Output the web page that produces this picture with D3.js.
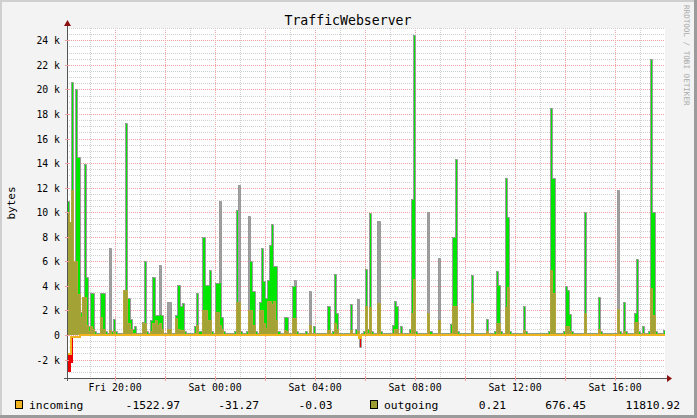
<!DOCTYPE html>
<html><head><meta charset="utf-8">
<script src="https://cdn.jsdelivr.net/npm/d3@7"></script>
<style>body{margin:0;background:#f3f3f3}svg{display:block}</style>
</head><body>
<script>
// ---- data (values in k bytes, 5-minute steps, 12 per row = 1 hour) ----
// grey series (peak)
const peakValues = [
 10.9, 9.2, 20.6, 6.0, 20.0, 14.5, 1.9, 2.8, 13.9, 4.7, 0.7, 3.4,
 3.4, 0.3, 0.2, 0.2, 3.4, 3.4, 0.3, 0.2, 7.1, 0.3, 1.3, 0.3,
 0.2, 0.2, 0.2, 3.7, 17.3, 3.0, 1.3, 0.5, 0.7, 0.2, 0.2, 0.2,
 1.1, 6.0, 0.3, 0.2, 1.2, 4.7, 1.6, 1.6, 5.7, 1.6, 0.2, 0.2,
 2.7, 2.7, 0.2, 0.2, 1.6, 4.1, 2.4, 2.6, 0.3, 0.2, 0.2, 0.2,
 0.2, 0.7, 3.4, 0.3, 0.3, 8.0, 4.1, 4.1, 5.3, 0.3, 0.2, 4.2,
 4.2, 10.9, 1.5, 0.3, 0.2, 0.2, 0.2, 0.2, 0.3, 10.2, 12.2, 0.3,
 0.2, 0.2, 0.3, 9.7, 6.0, 3.6, 0.3, 0.2, 2.7, 7.1, 4.4, 3.0,
 4.5, 7.3, 9.0, 5.6, 5.6, 0.3, 0.2, 0.2, 1.5, 1.5, 0.2, 0.2,
 4.0, 4.5, 0.3, 0.2, 0.2, 0.2, 0.3, 0.2, 3.6, 0.2, 0.7, 0.2,
 0.15, 0.15, 0.15, 0.15, 0.15, 2.4, 0.2, 0.3, 5.0, 1.8, 0.2, 0.15,
 0.15, 0.15, 0.15, 0.15, 2.5, 0.2, 0.5, 2.9, -1.0, 0.2, 0.3, 5.4,
 0.5, 9.9, 0.3, 0.2, 0.2, 9.3, 0.3, 0.15, 0.15, 0.15, 0.15, 0.15,
 0.8, 2.8, 2.4, 0.2, 0.7, 0.15, 0.15, 0.15, 0.5, 11.1, 24.4, 0.3,
 0.2, 0.2, 0.2, 0.2, 0.2, 10.0, 0.3, 0.2, 0.2, 0.2, 6.3, 0.2,
 0.15, 0.15, 0.15, 0.15, 0.9, 8.0, 14.3, 0.3, 0.15, 0.15, 0.15, 0.15,
 0.15, 0.15, 4.9, 0.2, 0.15, 0.15, 0.15, 0.15, 0.15, 1.3, 0.15, 0.15,
 0.2, 0.3, 5.2, 4.1, 0.3, 0.2, 12.8, 9.6, 0.3, 0.2, 0.2, 0.2,
 0.15, 0.15, 0.15, 2.4, 0.3, 0.15, 0.15, 0.15, 0.15, 0.15, 0.15, 0.15,
 0.15, 0.15, 0.15, 0.3, 18.5, 12.8, 0.2, 0.15, 0.15, 0.15, 0.3, 4.0,
 3.7, 1.7, 0.3, 0.15, 0.15, 0.15, 0.15, 0.15, 10.0, 0.2, 0.15, 0.15,
 0.15, 0.15, 0.15, 3.1, 0.3, 0.15, 0.15, 0.15, 0.15, 0.15, 0.15, 0.15,
 11.8, 0.3, 0.2, 2.7, 0.3, 0.15, 0.15, 0.15, 1.8, 6.2, 0.3, 0.2,
 0.7, 0.2, 0.2, 0.3, 22.5, 10.0, 0.3, 0.2, 0.2, 0.2, 0.4, 0.2
];
// green / red area series
const areaValues = [
 10.9, 9.2, 20.6, 6.0, 20.0, 14.5, 1.9, 2.8, 13.9, 4.7, 0.7, 3.4,
 3.4, 0.3, 0.2, 0.2, 3.4, 3.4, 0.3, 0.2, 0.3, 0.3, 1.3, 0.3,
 0.2, 0.2, 0.2, 3.7, 17.3, 3.0, 1.3, 0.5, 0.7, 0.2, 0.2, 0.2,
 1.1, 6.0, 0.3, 0.2, 1.2, 4.7, 1.6, 1.6, 1.6, 1.6, 0.2, 0.2,
 0.3, 0.3, 0.2, 0.2, 1.6, 4.1, 2.4, 2.6, 0.3, 0.2, 0.2, 0.2,
 0.2, 0.7, 3.4, 0.3, 0.3, 8.0, 4.1, 4.1, 5.3, 0.3, 0.2, 4.2,
 4.2, 4.2, 1.5, 0.3, 0.2, 0.2, 0.2, 0.2, 0.3, 10.2, 0.3, 0.3,
 0.2, 0.2, 0.3, 0.3, 6.0, 3.6, 0.3, 0.2, 2.7, 7.1, 4.4, 3.0,
 4.5, 7.3, 9.0, 5.6, 5.6, 0.3, 0.2, 0.2, 1.5, 1.5, 0.2, 0.2,
 4.0, 4.0, 0.3, 0.2, 0.2, 0.2, 0.3, 0.2, 0.2, 0.2, 0.7, 0.2,
 0.15, 0.15, 0.15, 0.15, 0.15, 2.4, 0.2, 0.3, 5.0, 1.8, 0.2, 0.15,
 0.15, 0.15, 0.15, 0.15, 2.5, 0.2, 0.5, 0.2, -1.0, 0.2, 0.3, 5.4,
 0.5, 9.9, 0.3, 0.2, 0.2, 0.3, 0.3, 0.15, 0.15, 0.15, 0.15, 0.15,
 0.8, 2.8, 2.4, 0.2, 0.7, 0.15, 0.15, 0.15, 0.5, 11.1, 24.4, 0.3,
 0.2, 0.2, 0.2, 0.2, 0.2, 0.3, 0.3, 0.2, 0.2, 0.2, 0.2, 0.2,
 0.15, 0.15, 0.15, 0.15, 0.9, 8.0, 14.3, 0.3, 0.15, 0.15, 0.15, 0.15,
 0.15, 0.15, 4.9, 0.2, 0.15, 0.15, 0.15, 0.15, 0.15, 1.3, 0.15, 0.15,
 0.2, 0.3, 5.2, 4.1, 0.3, 0.2, 12.8, 9.6, 0.3, 0.2, 0.2, 0.2,
 0.15, 0.15, 0.15, 2.4, 0.3, 0.15, 0.15, 0.15, 0.15, 0.15, 0.15, 0.15,
 0.15, 0.15, 0.15, 0.3, 18.5, 12.8, 0.2, 0.15, 0.15, 0.15, 0.3, 4.0,
 3.7, 1.7, 0.3, 0.15, 0.15, 0.15, 0.15, 0.15, 10.0, 0.2, 0.15, 0.15,
 0.15, 0.15, 0.15, 3.1, 0.3, 0.15, 0.15, 0.15, 0.15, 0.15, 0.15, 0.15,
 0.3, 0.3, 0.2, 2.7, 0.3, 0.15, 0.15, 0.15, 1.8, 6.2, 0.3, 0.2,
 0.7, 0.2, 0.2, 0.3, 22.5, 10.0, 0.3, 0.2, 0.2, 0.2, 0.4, 0.2
];
const outgoingValues = [
 10.0, 9.2, 11.8, 6.0, 6.0, 3.3, 1.5, 3.1, 3.1, 0.8, 0.3, 0.7,
 0.5, 0.1, 0.1, 0.1, 1.5, 0.5, 0.1, 0.1, 0.4, 0.1, 0.3, 0.1,
 0.1, 0.1, 0.1, 3.7, 3.7, 1.0, 0.5, 0.2, 0.2, 0.1, 0.1, 0.1,
 1.0, 1.0, 0.1, 0.1, 0.3, 1.0, 1.2, 0.8, 1.0, 0.5, 0.1, 0.1,
 0.5, 0.5, 0.1, 0.1, 1.4, 0.5, 0.4, 0.4, 0.1, 0.1, 0.1, 0.1,
 0.1, 0.2, 0.8, 0.1, 0.1, 2.0, 2.0, 1.2, 1.2, 0.1, 0.1, 1.9,
 1.9, 0.8, 0.5, 0.1, 0.1, 0.1, 0.1, 0.1, 0.1, 2.7, 2.7, 0.1,
 0.1, 0.1, 0.1, 2.0, 2.0, 0.8, 0.1, 0.1, 2.0, 2.0, 1.0, 0.6,
 2.8, 2.8, 2.5, 2.8, 1.2, 0.1, 0.1, 0.1, 0.4, 0.3, 0.1, 0.1,
 1.4, 1.4, 0.1, 0.1, 0.1, 0.1, 0.1, 0.1, 0.8, 0.1, 0.2, 0.1,
 0.1, 0.1, 0.1, 0.1, 0.1, 0.4, 0.1, 0.1, 1.0, 0.5, 0.1, 0.1,
 0.1, 0.1, 0.1, 0.1, 0.4, 0.1, 0.1, 0.3, 0.1, 0.1, 0.1, 2.4,
 0.2, 2.3, 0.1, 0.1, 0.1, 2.6, 0.1, 0.1, 0.1, 0.1, 0.1, 0.1,
 0.2, 0.5, 0.5, 0.1, 0.2, 0.1, 0.1, 0.1, 0.2, 1.8, 4.6, 0.1,
 0.1, 0.1, 0.1, 0.1, 0.1, 1.8, 0.1, 0.1, 0.1, 0.1, 1.2, 0.1,
 0.1, 0.1, 0.1, 0.1, 0.2, 2.4, 2.4, 0.1, 0.1, 0.1, 0.1, 0.1,
 0.1, 0.1, 2.6, 0.1, 0.1, 0.1, 0.1, 0.1, 0.1, 0.3, 0.1, 0.1,
 0.1, 0.1, 1.0, 1.0, 0.1, 0.1, 2.3, 3.9, 0.1, 0.1, 0.1, 0.1,
 0.1, 0.1, 0.1, 0.4, 0.1, 0.1, 0.1, 0.1, 0.1, 0.1, 0.1, 0.1,
 0.1, 0.1, 0.1, 0.1, 5.3, 3.4, 0.1, 0.1, 0.1, 0.1, 0.1, 0.7,
 0.7, 0.3, 0.1, 0.1, 0.1, 0.1, 0.1, 0.1, 1.8, 0.1, 0.1, 0.1,
 0.1, 0.1, 0.1, 0.5, 0.1, 0.1, 0.1, 0.1, 0.1, 0.1, 0.1, 0.1,
 2.1, 0.1, 0.1, 0.3, 0.1, 0.1, 0.1, 0.1, 1.1, 1.1, 0.1, 0.1,
 0.2, 0.1, 0.1, 0.1, 3.8, 1.6, 0.1, 0.1, 0.1, 0.1, 0.1, 0.1
];
const incomingValues = [
 -1.52, -1.52, -0.14, -0.14, -0.14, -0.14, -0.03, -0.03, -0.03, -0.03, -0.03, -0.03,
 -0.03, -0.03, -0.03, -0.03, -0.03, -0.03, -0.03, -0.03, -0.03, -0.03, -0.03, -0.03,
 -0.03, -0.03, -0.03, -0.03, -0.03, -0.03, -0.03, -0.03, -0.03, -0.03, -0.03, -0.03,
 -0.03, -0.03, -0.03, -0.03, -0.03, -0.03, -0.03, -0.03, -0.03, -0.03, -0.03, -0.03,
 -0.03, -0.03, -0.03, -0.03, -0.03, -0.03, -0.03, -0.03, -0.03, -0.03, -0.03, -0.03,
 -0.03, -0.03, -0.03, -0.03, -0.03, -0.03, -0.03, -0.03, -0.03, -0.03, -0.03, -0.03,
 -0.03, -0.03, -0.03, -0.03, -0.03, -0.03, -0.03, -0.03, -0.03, -0.03, -0.03, -0.03,
 -0.03, -0.03, -0.03, -0.03, -0.03, -0.03, -0.03, -0.03, -0.03, -0.03, -0.03, -0.03,
 -0.03, -0.03, -0.03, -0.03, -0.03, -0.03, -0.03, -0.03, -0.03, -0.03, -0.03, -0.03,
 -0.03, -0.03, -0.03, -0.03, -0.03, -0.03, -0.03, -0.03, -0.03, -0.03, -0.03, -0.03,
 -0.03, -0.03, -0.03, -0.03, -0.03, -0.03, -0.03, -0.03, -0.03, -0.03, -0.03, -0.03,
 -0.03, -0.03, -0.03, -0.03, -0.03, -0.03, -0.03, -0.03, -0.25, -0.03, -0.03, -0.03,
 -0.03, -0.03, -0.03, -0.03, -0.03, -0.03, -0.03, -0.03, -0.03, -0.03, -0.03, -0.03,
 -0.03, -0.03, -0.03, -0.03, -0.03, -0.03, -0.03, -0.03, -0.03, -0.03, -0.03, -0.03,
 -0.03, -0.03, -0.03, -0.03, -0.03, -0.03, -0.03, -0.03, -0.03, -0.03, -0.03, -0.03,
 -0.03, -0.03, -0.03, -0.03, -0.03, -0.03, -0.03, -0.03, -0.03, -0.03, -0.03, -0.03,
 -0.03, -0.03, -0.03, -0.03, -0.03, -0.03, -0.03, -0.03, -0.03, -0.03, -0.03, -0.03,
 -0.03, -0.03, -0.03, -0.03, -0.03, -0.03, -0.03, -0.03, -0.03, -0.03, -0.03, -0.03,
 -0.03, -0.03, -0.03, -0.03, -0.03, -0.03, -0.03, -0.03, -0.03, -0.03, -0.03, -0.03,
 -0.03, -0.03, -0.03, -0.03, -0.03, -0.03, -0.03, -0.03, -0.03, -0.03, -0.03, -0.03,
 -0.03, -0.03, -0.03, -0.03, -0.03, -0.03, -0.03, -0.03, -0.03, -0.03, -0.03, -0.03,
 -0.03, -0.03, -0.03, -0.03, -0.03, -0.03, -0.03, -0.03, -0.03, -0.03, -0.03, -0.03,
 -0.03, -0.03, -0.03, -0.03, -0.03, -0.03, -0.03, -0.03, -0.03, -0.03, -0.03, -0.03,
 -0.03, -0.03, -0.03, -0.03, -0.03, -0.03, -0.03, -0.03, -0.03, -0.03, -0.03, -0.03
];
const incomingMinStart = [-3.0, -3.05, -2.3];   // red band below incoming, first steps
const yTickValues = [-2, 0, 2, 4, 6, 8, 10, 12, 14, 16, 18, 20, 22, 24];
const legendNames = ["incoming", "outgoing"];
const legendStats = [["-1522.97", "-31.27", "-0.03"], ["0.21", "676.45", "11810.92"]];
const titleText = "TrafficWebserver";
const yLabelText = "bytes";

// ---- layout ----
const W = 697, H = 418;
const PL = 67, PR = 665, PT = 28, PB = 378;
const startTime = new Date(2010, 0, 1, 18, 4, 48);   // Friday
const endTime = new Date(2010, 0, 2, 18, 0, 0);
const STEP = 300000;
const MONO = "'DejaVu Sans Mono', monospace";

const x = d3.scaleTime().domain([startTime, endTime]).range([PL, PR]);
const y = d3.scaleLinear().domain([-3.5, 25]).range([PB, PT]);
const px = t => Math.round(x(t));
const py = v => Math.round(y(v));

const svg = d3.select("body").append("svg").attr("width", W).attr("height", H);
svg.append("rect").attr("width", W).attr("height", H).attr("fill", "#f3f3f3");
svg.append("rect").attr("x", 0).attr("y", 0).attr("width", W).attr("height", 2).attr("fill", "#cfcfcf");
svg.append("rect").attr("x", 0).attr("y", 0).attr("width", 2).attr("height", H).attr("fill", "#cfcfcf");
svg.append("rect").attr("x", W - 3).attr("y", 0).attr("width", 3).attr("height", H).attr("fill", "#9b9b9b");
svg.append("rect").attr("x", 0).attr("y", H - 3).attr("width", W).attr("height", 3).attr("fill", "#9b9b9b");

svg.append("rect").attr("x", PL).attr("y", PT).attr("width", PR - PL).attr("height", PB - PT).attr("fill", "#ffffff");

const grid = svg.append("g").attr("shape-rendering", "crispEdges");
const hours = d3.timeHour.range(startTime, endTime);
hours.forEach(h => {
  const major = h.getHours() % 2 === 0;
  const xx = px(h) + 0.5;
  grid.append("line").attr("x1", xx).attr("x2", xx).attr("y1", PT).attr("y2", PB)
    .attr("stroke", major ? "#f2a0a0" : "#d0d0d0").attr("stroke-dasharray", "1,1");
});
d3.range(-3.5, 25.01, 0.5).forEach(v => {
  const major = Math.abs(v % 2) < 1e-9;
  const yy = py(v) + 0.5;
  grid.append("line").attr("x1", PL).attr("x2", PR).attr("y1", yy).attr("y2", yy)
    .attr("stroke", major ? "#f2a0a0" : "#d0d0d0").attr("stroke-dasharray", "1,1");
});

// ---- data marks ----
svg.append("clipPath").attr("id", "plotclip").append("rect")
  .attr("x", PL + 1).attr("y", PT - 2).attr("width", PR - PL - 1).attr("height", PB - PT + 2);
const plot = svg.append("g").attr("clip-path", "url(#plotclip)");

const withEnd = arr => {
  const pts = arr.map((v, i) => ({ t: new Date(+startTime + i * STEP), v }));
  pts.push({ t: new Date(+startTime + arr.length * STEP), v: arr[arr.length - 1] });
  return pts;
};
const peakPts = withEnd(peakValues);
const areaPts = withEnd(areaValues);
const outPts = withEnd(outgoingValues);
const inPts = withEnd(incomingValues);
const redPts = withEnd(incomingMinStart).map((p, i) => ({ t: p.t, lo: p.v, hi: incomingValues[Math.min(i, incomingMinStart.length - 1)] }));

const stepArea = (lo, hi) => d3.area().curve(d3.curveStepAfter).x(d => px(d.t)).y0(lo).y1(hi);
const stepLine = (f, off) => d3.line().curve(d3.curveStepAfter).x(d => px(d.t) + off).y(d => f(d) + off);

// grey peak area (behind)
plot.append("path").datum(peakPts).attr("fill", "#a0a0a0").attr("shape-rendering", "crispEdges")
  .attr("d", stepArea(() => py(0), d => py(Math.max(0, d.v))));
plot.append("path").datum(areaPts).attr("fill", "#00e600").attr("shape-rendering", "crispEdges")
  .attr("d", stepArea(() => py(0), d => py(Math.max(0, d.v))));
plot.append("path").datum(areaPts).attr("fill", "#ee0000").attr("shape-rendering", "crispEdges")
  .attr("d", stepArea(() => py(0), d => py(Math.min(0, d.v))));
plot.append("path").datum(redPts).attr("fill", "#ee0000").attr("shape-rendering", "crispEdges")
  .attr("d", stepArea(d => py(d.hi), d => py(d.lo)));
plot.append("path").datum(peakPts).attr("fill", "none").attr("stroke", "#999999").attr("stroke-width", 1)
  .attr("d", stepLine(d => py(d.v), 0.5));
plot.append("path").datum(outPts).attr("fill", "#a3a234").attr("shape-rendering", "crispEdges")
  .attr("d", stepArea(() => py(0), d => py(d.v)));
plot.append("path").datum(outPts).attr("fill", "none").attr("stroke", "#b3a43e").attr("stroke-width", 1)
  .attr("d", stepLine(d => py(d.v), 0.5));
plot.append("path").datum(inPts).attr("fill", "none").attr("stroke", "#f0b420").attr("stroke-width", 2)
  .attr("d", stepLine(d => py(d.v), 0));

// ---- axes ----
const axisG = svg.append("g").attr("shape-rendering", "crispEdges");
axisG.append("line").attr("x1", PL + 0.5).attr("x2", PL + 0.5).attr("y1", 24).attr("y2", PB + 3).attr("stroke", "#555");
axisG.append("line").attr("x1", PL - 3).attr("x2", PR + 3).attr("y1", PB + 0.5).attr("y2", PB + 0.5).attr("stroke", "#555");
svg.append("path").attr("d", `M${PL - 3},${26} L${PL + 0.5},${20} L${PL + 4},${26} Z`).attr("fill", "#8b1010");
svg.append("path").attr("d", `M${PR + 2},${PB - 3} L${PR + 7},${PB + 0.5} L${PR + 2},${PB + 4} Z`).attr("fill", "#8b1010");

yTickValues.forEach(v => {
  const yy = py(v) + 0.5;
  axisG.append("line").attr("x1", PL - 2).attr("x2", PL + 2).attr("y1", yy).attr("y2", yy).attr("stroke", "#f2a0a0");
  svg.append("text").attr("x", 60).attr("y", yy + 3.5).attr("text-anchor", "end")
    .attr("font-family", MONO).attr("font-size", "9.8px").attr("fill", "#000")
    .text(v === 0 ? "0" : `${v} k`);
});
const xTicks = d3.timeHour.every(4).range(startTime, endTime);
hours.filter(h => h.getHours() % 2 === 0).forEach(h => {
  const xx = px(h) + 0.5;
  axisG.append("line").attr("x1", xx).attr("x2", xx).attr("y1", PB - 2).attr("y2", PB + 3).attr("stroke", "#f2a0a0");
});
const fmt = d3.timeFormat("%a %H:%M");
xTicks.forEach(t => {
  svg.append("text").attr("x", x(t)).attr("y", 391).attr("text-anchor", "middle")
    .attr("font-family", MONO).attr("font-size", "9.8px").attr("fill", "#000").text(fmt(t));
});

svg.append("text").attr("x", 348).attr("y", 25).attr("text-anchor", "middle")
  .attr("font-family", MONO).attr("font-size", "13.2px").attr("fill", "#000").text(titleText);
svg.append("text").attr("transform", "translate(15,203) rotate(-90)").attr("text-anchor", "middle")
  .attr("font-family", MONO).attr("font-size", "11px").attr("fill", "#000").text(yLabelText);
svg.append("text").attr("transform", "translate(684,5) rotate(90)").attr("text-anchor", "start")
  .attr("font-family", MONO).attr("font-size", "7.6px").attr("fill", "#aaaaaa").text("RRDTOOL / TOBI OETIKER");

const swatchColors = ["#f0b420", "#9c9c32"];
const legendX = [15, 370];
const statEnds = [[180, 259, 332.5], [506, 586, 680]];
legendNames.forEach((name, k) => {
  svg.append("rect").attr("x", legendX[k] + 0.5).attr("y", 400.5).attr("width", 7).attr("height", 8)
    .attr("fill", swatchColors[k]).attr("stroke", "#000").attr("stroke-width", 1);
  svg.append("text").attr("x", legendX[k] + 14).attr("y", 409)
    .attr("font-family", MONO).attr("font-size", "11.3px").attr("fill", "#000").text(name);
  legendStats[k].forEach((s, j) => {
    svg.append("text").attr("x", statEnds[k][j]).attr("y", 409).attr("text-anchor", "end")
      .attr("font-family", MONO).attr("font-size", "11.3px").attr("fill", "#000").text(s);
  });
});
</script>
</body></html>
